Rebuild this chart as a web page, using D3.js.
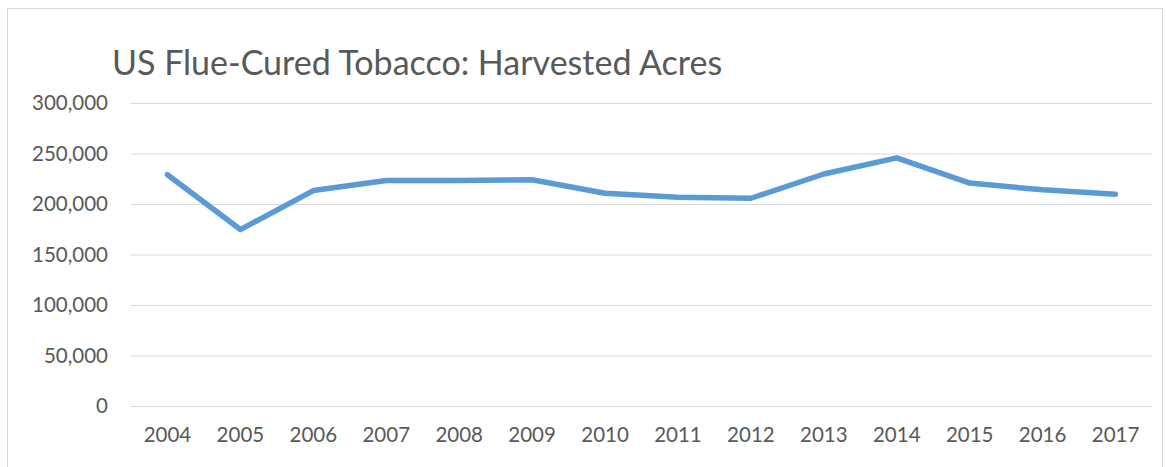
<!DOCTYPE html>
<html><head><meta charset="utf-8">
<script src="https://cdn.jsdelivr.net/npm/d3@7"></script>
<style>body{margin:0;background:#fff;} svg{display:block;}</style>
</head><body>
<script>
const title = "US Flue-Cured Tobacco: Harvested Acres";
const years = ["2004","2005","2006","2007","2008","2009","2010","2011","2012","2013","2014","2015","2016","2017"];
const acres = [229000,174700,213300,223300,223300,224000,210700,206700,205700,229700,245700,220700,214000,209700];
const yTicks = [0,50000,100000,150000,200000,250000,300000];

const W = 1166, H = 467;
const svg = d3.select("body").append("svg").attr("width", W).attr("height", H);
const font = "Lato, 'Open Sans', sans-serif";

svg.append("rect").attr("x",7.5).attr("y",8.5).attr("width",1155).attr("height",470)
  .attr("fill","none").attr("stroke","#d9d9d9").attr("stroke-width",1);

const x = d3.scaleBand().domain(years).range([131,1152]);
const y = d3.scaleLinear().domain([0,300000]).range([406,103]);

svg.append("text").attr("x",112).attr("y",75).text(title)
  .attr("font-family",font).attr("font-size",34).attr("fill","#595959");

const yAxis = svg.append("g").attr("transform","translate(131,0)")
  .call(d3.axisLeft(y).tickValues(yTicks).tickSize(-1021).tickPadding(23)
    .tickFormat(d => d3.format(",")(d)));
yAxis.select(".domain").remove();
yAxis.selectAll("line").attr("stroke","#d9d9d9").attr("stroke-width",1);
yAxis.selectAll("text").attr("font-family",font).attr("font-size",20.5).attr("fill","#595959");

const xAxis = svg.append("g").attr("transform","translate(0,406)")
  .call(d3.axisBottom(x).tickSize(0).tickPadding(21));
xAxis.select(".domain").remove();
xAxis.selectAll("text").attr("font-family",font).attr("font-size",20.5).attr("fill","#595959");

const line = d3.line().x((d,i)=>x(years[i])+x.bandwidth()/2).y(d=>y(d));
svg.append("path").datum(acres).attr("d",line).attr("fill","none")
  .attr("stroke","#5b9bd5").attr("stroke-width",5.5).attr("stroke-linejoin","round").attr("stroke-linecap","round");
</script>
</body></html>
